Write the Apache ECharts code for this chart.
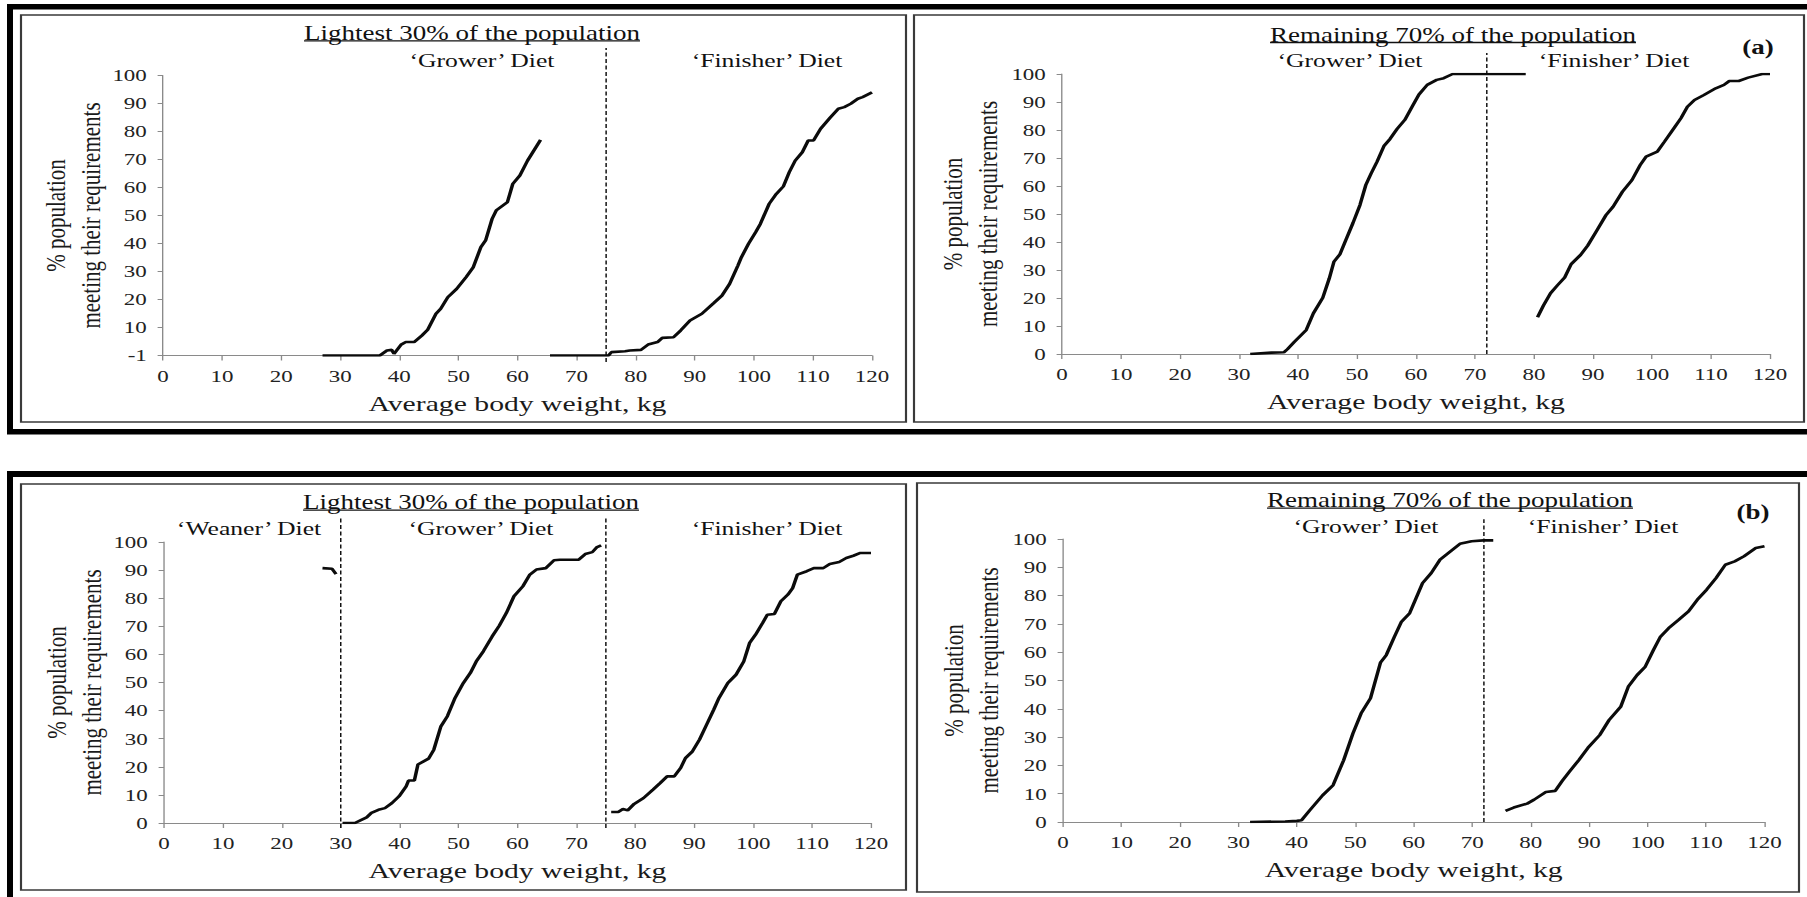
<!DOCTYPE html>
<html>
<head>
<meta charset="utf-8">
<script src="https://cdn.jsdelivr.net/npm/echarts@6/dist/echarts.min.js"></script>
<style>
html,body{margin:0;padding:0;background:#fff;overflow:hidden;}
#wrap{position:absolute;left:0;top:0;width:1807px;height:897px;overflow:hidden;background:#fff;}
#chart{position:absolute;left:0;top:0;height:897px;transform-origin:0 0;}
</style>
</head>
<body>
<div id="wrap"><div id="chart"></div></div>
<script>
// ---------------- DATA ----------------
const xTickLabels = ['0','10','20','30','40','50','60','70','80','90','100','110','120'];
const yTickLabelsTL = ['-1','10','20','30','40','50','60','70','80','90','100'];
const yTickLabels = ['0','10','20','30','40','50','60','70','80','90','100'];

// (a) Lightest 30% of the population
const tlGrower = [[27,0],[36.7,0],[37.9,1.8],[38.7,2],[39.1,0.6],[40.3,3.9],[41.1,4.8],[42.5,4.8],[43.8,7.1],[44.8,9.2],[46.2,14.9],[47,16.7],[48.2,20.8],[49.7,23.8],[51.3,28],[52.5,31.5],[53.8,38.7],[54.6,41.1],[55.7,48.8],[56.4,51.8],[58.3,54.8],[59.2,61.3],[60.4,64.3],[61.7,69.6],[63.9,77]];
const tlFinisher = [[65.5,0],[75.4,0],[75.9,1.2],[78.2,1.5],[79,1.8],[80.9,2],[82.1,3.9],[83.7,4.8],[84.5,6.3],[86.4,6.5],[87.6,8.9],[89.2,12.5],[91.2,14.9],[93.2,18.7],[94.6,21.4],[95.9,25.6],[97.3,32.1],[97.9,35.1],[99.1,39.9],[100.3,44],[101.1,47],[102.6,54.2],[103.8,57.7],[105,60.4],[106,65.5],[107,69.6],[108.2,72.6],[109.2,76.8],[110.1,76.8],[111.3,81],[112.9,84.9],[114.3,88.1],[115.3,88.7],[116.4,89.9],[117.6,91.7],[118.4,92.3],[120,94]];
const tlDividers = [75];

// (a) Remaining 70% of the population
const trGrower = [[31.9,0],[35.5,0.5],[37.6,0.6],[38.2,1.7],[39.4,4.4],[41.4,8.6],[42.6,14.5],[44.2,20.1],[45.3,27],[46.1,33],[47.1,35.6],[48.1,40.7],[49.3,46.7],[50.5,53.2],[51.5,60.4],[52.4,64.5],[53.4,68.7],[54.6,74.4],[55.6,76.8],[56.8,80.4],[58.1,83.6],[59.5,88.9],[60.5,92.7],[61.9,96.1],[63.5,97.9],[64.7,98.5],[66.2,100],[78.6,100]];
const trFinisher = [[80.6,13.1],[81.6,17.3],[82.8,21.7],[84,24.6],[85.2,27.3],[86.3,32.1],[87.9,35.4],[89.1,38.7],[90.7,44.3],[92.2,49.6],[93.4,52.6],[95,58],[96.6,62.1],[98,67.5],[99,70.5],[100.9,72.3],[102.1,75.8],[103.7,80.6],[104.9,84.2],[106,88.3],[107.2,90.7],[108.8,92.5],[110.8,94.9],[112.2,96.1],[113.1,97.5],[114.7,97.5],[116.3,98.7],[118.7,100],[120,100]];
const trDividers = [72];

// (b) Lightest 30% of the population
const blWeaner = [[26.9,90.7],[28.5,90.5],[29.2,88.6]];
const blGrower = [[30.3,0],[32.4,0],[33.6,1.2],[34.4,2],[35.2,3.6],[36.4,4.7],[37.5,5.3],[38.7,7.1],[39.9,9.5],[41.1,13],[41.5,15.1],[42.5,15.1],[43.1,20.8],[44.9,22.9],[45.8,26.1],[47,34.4],[48.1,38],[49.4,44.5],[50.8,49.8],[52,53.4],[53,57.5],[54.2,61.1],[55.7,66.4],[56.9,70.2],[58.1,74.7],[59.4,80.7],[60.9,84.2],[62.1,88.4],[63.2,90.2],[64.8,90.7],[66.2,93.5],[67.2,93.7],[70.4,93.7],[71.5,95.7],[72.7,96.4],[73.5,98.2],[74.2,98.8]];
const blFinisher = [[75.9,3.9],[77.1,3.9],[77.9,5],[78.7,4.5],[79.8,6.8],[81.4,8.9],[83,11.9],[84.2,14.2],[85.4,16.6],[86.6,16.6],[87.7,19.6],[88.5,23.1],[89.7,25.5],[90.9,29.7],[92.1,35],[93.3,40.3],[94.2,44.5],[95.7,49.8],[97.1,52.8],[98.4,57.5],[99.4,64.1],[100.4,67],[101.6,71.2],[102.4,74.1],[103.6,74.4],[104.7,78.9],[105.9,81.3],[106.7,83.6],[107.5,88.4],[109.1,89.6],[110.3,90.7],[111.9,90.7],[113,92.2],[114.6,92.9],[115.8,94.3],[117,95.1],[118.2,96.1],[120,96.1]];
const blDividers = [30, 75];

// (b) Remaining 70% of the population
const brGrower = [[32,0],[38,0.2],[40,0.4],[40.8,0.6],[42.2,4.1],[44.4,9.4],[46.2,13],[48,21.8],[49.6,31.3],[51,38.4],[52.6,43.7],[54.3,56.3],[55.3,59],[56.7,65.5],[57.9,70.8],[59.3,73.8],[61.5,84.4],[63,88],[64.5,92.7],[65.9,95],[67.9,98.3],[69.9,99.2],[71.9,99.5],[73.6,99.5]];
const brFinisher = [[75.7,3.9],[77.1,5.1],[79.4,6.5],[80.6,7.9],[82.6,10.6],[84.2,11],[85.4,14.5],[86.6,17.7],[88.2,21.8],[89.8,26.2],[91.8,30.7],[93.4,36],[95.4,40.7],[96.7,47.8],[98.2,51.9],[99.6,54.9],[101,60.8],[102.2,65.5],[103.6,68.5],[105.3,71.4],[107,74.4],[108.5,78.5],[110.1,82.1],[111.7,86.2],[113.3,90.9],[114.9,92.1],[116.5,93.9],[118.5,96.8],[120,97.4]];
const brDividers = [72];

const xAxisTitle = 'Average body weight, kg';
const yAxisTitle = '% population\nmeeting their requirements';
const titleLight = 'Lightest 30% of the population';
const titleRemain = 'Remaining 70% of the population';
const dietWeaner = '\u2018Weaner\u2019 Diet';
const dietGrower = '\u2018Grower\u2019 Diet';
const dietFinisher = '\u2018Finisher\u2019 Diet';

// ---------------- LAYOUT (screen px) ----------------
const S = 1.35; // horizontal stretch of the original figure
const FONT = '"Liberation Serif","Times New Roman",serif';
const panels = [
  {grid:[163, 75.5, 709, 280], lines:[tlGrower, tlFinisher], dividers:tlDividers, span:[-2.3,109.8], yLabels:yTickLabelsTL, nameGapY:41},
  {grid:[1062, 74, 708, 280], lines:[trGrower, trFinisher], dividers:trDividers, span:[0,107.5], yLabels:yTickLabels, nameGapY:42},
  {grid:[164, 542, 707, 281], lines:[blWeaner, blGrower, blFinisher], dividers:blDividers, span:[-1.8,109], yLabels:yTickLabels, nameGapY:41},
  {grid:[1063, 539, 701.5, 283], lines:[brGrower, brFinisher], dividers:brDividers, span:[0,107], yLabels:yTickLabels, nameGapY:42}
];

const el = document.getElementById('chart');
el.style.width = (1807 / S) + 'px';
el.style.transform = 'scaleX(' + S + ')';
const chart = echarts.init(el, null, {renderer: 'svg'});

const grids = [], xAxes = [], yAxes = [], series = [];
panels.forEach((p, i) => {
  grids.push({left: p.grid[0] / S, top: p.grid[1], width: p.grid[2] / S, height: p.grid[3], containLabel: false, outerBoundsMode: 'none'});
  xAxes.push({
    type: 'value', gridIndex: i, min: 0, max: 120, interval: 10,
    name: xAxisTitle, nameLocation: 'middle', nameGap: 37, nameMoveOverlap: false,
    nameTextStyle: {fontFamily: FONT, fontSize: 22, color: '#1a1a1a'},
    axisLine: {show: true, onZero: false, lineStyle: {color: '#8a8a8a', width: 1}},
    axisTick: {show: true, length: 5, lineStyle: {color: '#8a8a8a', width: 1}},
    axisLabel: {fontFamily: FONT, fontSize: 17, color: '#222', margin: 12,
      formatter: v => xTickLabels[Math.round(v / 10)]},
    splitLine: {show: false}
  });
  const labs = p.yLabels;
  yAxes.push({
    type: 'value', gridIndex: i, min: 0, max: 100, interval: 10,
    name: yAxisTitle, nameLocation: 'middle', nameGap: p.nameGapY, nameRotate: 90, nameMoveOverlap: false,
    nameTextStyle: {fontFamily: FONT, fontSize: 21, color: '#1a1a1a', lineHeight: 26},
    axisLine: {show: true, onZero: false, lineStyle: {color: '#8a8a8a', width: 1}},
    axisTick: {show: true, length: 4, lineStyle: {color: '#8a8a8a', width: 1}},
    axisLabel: {fontFamily: FONT, fontSize: 17, color: '#222', margin: 12,
      formatter: v => labs[Math.round(v / 10)]},
    splitLine: {show: false}
  });
  p.lines.forEach(d => {
    series.push({type: 'line', xAxisIndex: i, yAxisIndex: i, data: d, symbol: 'none', showSymbol: false,
      smooth: false, animation: false, z: 4, lineStyle: {color: '#0b0b0b', width: 2.6}});
  });
  p.dividers.forEach(dx => {
    series.push({type: 'line', xAxisIndex: i, yAxisIndex: i, data: [[dx, p.span[0]], [dx, p.span[1]]],
      symbol: 'none', showSymbol: false, clip: false, animation: false, z: 3,
      lineStyle: {color: '#111', width: 1.1, type: [4, 2.5]}});
  });
});

// ---------------- DECORATION ----------------
const G = [];
const meas = document.createElement('canvas').getContext('2d');
function band(x, y, w, h) {
  G.push({type: 'rect', silent: true, shape: {x: x / S, y: y, width: w / S, height: h}, style: {fill: '#000'}});
}
function box(x1, y1, x2, y2) {
  G.push({type: 'rect', silent: true, shape: {x: x1 / S, y: y1, width: (x2 - x1) / S, height: y2 - y1},
    style: {fill: 'none', stroke: '#3a3a3a', lineWidth: 1.6}});
}
function txt(t, x, y, size, bold, underline) {
  const font = (bold ? 'bold ' : '') + size + 'px ' + FONT;
  G.push({type: 'text', silent: true, x: x / S, y: y, z: 10,
    style: {text: t, font: font, fill: '#111', textAlign: 'center', textVerticalAlign: 'middle', align: 'center', verticalAlign: 'middle'}});
  if (underline) {
    meas.font = font;
    const w = meas.measureText(t).width;
    G.push({type: 'line', silent: true, z: 10, shape: {x1: x / S - w / 2, y1: y + 7.5, x2: x / S + w / 2, y2: y + 7.5},
      style: {stroke: '#111', lineWidth: 1.3}});
  }
}
// outer thick frames
band(7, 4, 1800, 5.5); band(7, 4, 6, 430); band(7, 429, 1800, 5.5);
band(7, 471, 1800, 6); band(7, 471, 6, 426);
// inner panel boxes
box(21, 15, 906, 422); box(914, 15, 1804, 422);
box(21, 484, 906, 890); box(917, 483, 1799, 892);
// titles
txt(titleLight, 472, 33.3, 20, false, true);
txt(titleRemain, 1453, 35, 20, false, true);
txt(titleLight, 471, 502.7, 20, false, true);
txt(titleRemain, 1450, 500.7, 20, false, true);
// diet labels
txt(dietGrower, 482, 61, 19); txt(dietFinisher, 767, 61, 19);
txt(dietGrower, 1350, 61, 19); txt(dietFinisher, 1614, 61, 19);
txt('(a)', 1758, 47.7, 20, true);
txt(dietWeaner, 249, 529, 19); txt(dietGrower, 481, 529, 19); txt(dietFinisher, 767, 529, 19);
txt(dietGrower, 1366, 527, 19); txt(dietFinisher, 1603, 527, 19);
txt('(b)', 1753, 512.7, 20, true);

chart.setOption({
  animation: false,
  backgroundColor: '#fff',
  grid: grids, xAxis: xAxes, yAxis: yAxes, series: series,
  graphic: {elements: G}
});
</script>
</body>
</html>
